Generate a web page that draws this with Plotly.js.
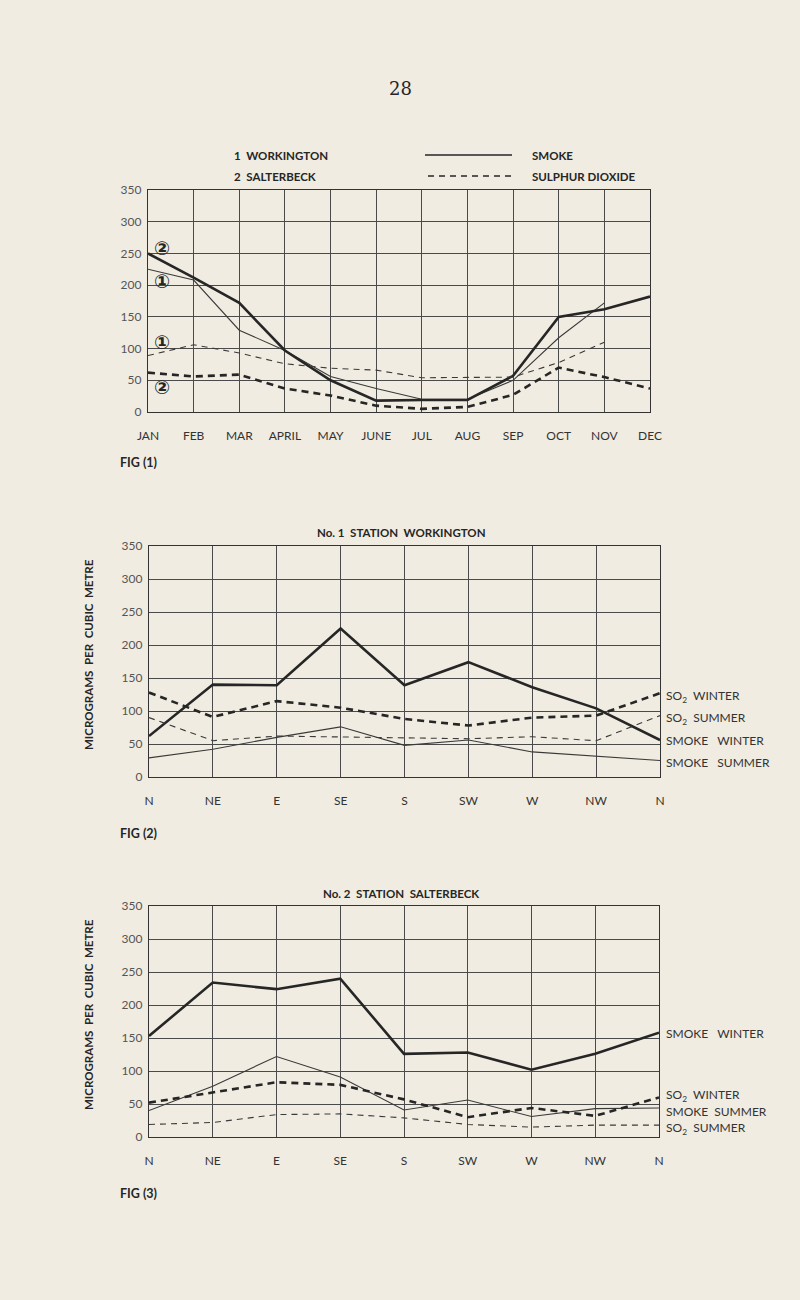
<!DOCTYPE html>
<html>
<head>
<meta charset="utf-8">
<script src="https://cdn.plot.ly/plotly-3.0.1.min.js"></script>
<style>
  html, body { margin: 0; padding: 0; background: #f0ece1; }
  #chart { width: 800px; height: 1300px; }
</style>
</head>
<body>
<div id="chart"></div>
<script>
// ---------- DATA ----------
const months = ['JAN','FEB','MAR','APRIL','MAY','JUNE','JUL','AUG','SEP','OCT','NOV','DEC'];
const directions = ['N','NE','E','SE','S','SW','W','NW','N'];

// Fig 1 – monthly averages
const smokeWorkington = [225,208,129,97,56,37,20,20,50,117,172];
const smokeSalterbeck = [250,212,172,97,50,18,19,19,57,150,162,182];
const so2Workington   = [89,106,93,76,69,66,54,54,55,78,110];
const so2Salterbeck   = [62,56,59,37,26,10,5,8,27,70,55,37];

// Fig 2 – No. 1 Station Workington, by wind direction
const w_smokeWinter = [62,140,139,225,139,174,136,104,56];
const w_smokeSummer = [29,42,60,76,48,56,38,31,25];
const w_so2Winter   = [128,91,115,105,88,78,90,93,127];
const w_so2Summer   = [90,55,62,61,59,58,61,55,93];

// Fig 3 – No. 2 Station Salterbeck, by wind direction
const s_smokeWinter = [153,234,224,240,126,128,102,126,158];
const s_smokeSummer = [40,77,122,91,41,56,31,43,44];
const s_so2Winter   = [52,67,83,79,57,30,44,32,60];
const s_so2Summer   = [19,22,34,35,29,19,15,18,18];

const yTicks = [0,50,100,150,200,250,300,350];

// ---------- STYLE ----------
const INK = '#262626';
const BG = '#f0ece1';
const FONT = 'Lato, "Open Sans", sans-serif';
const thick = {color: INK, width: 2.6};
const thin  = {color: '#3a3a3a', width: 1.1};
const thickDash = {color: INK, width: 2.6, dash: '7px,5px'};
const thinDash  = {color: '#3a3a3a', width: 1.1, dash: '6px,5px'};

const idx = a => a.map((_, i) => i);
function tr(xs, ys, line, xa, ya) {
  return {x: xs, y: ys, type: 'scatter', mode: 'lines', line: line,
          xaxis: xa, yaxis: ya, hoverinfo: 'skip', showlegend: false};
}

const traces = [
  tr(idx(smokeWorkington), smokeWorkington, thin, 'x', 'y'),
  tr(idx(smokeSalterbeck), smokeSalterbeck, thick, 'x', 'y'),
  tr(idx(so2Workington), so2Workington, thinDash, 'x', 'y'),
  tr(idx(so2Salterbeck), so2Salterbeck, thickDash, 'x', 'y'),

  tr(idx(w_smokeWinter), w_smokeWinter, thick, 'x2', 'y2'),
  tr(idx(w_smokeSummer), w_smokeSummer, thin, 'x2', 'y2'),
  tr(idx(w_so2Winter), w_so2Winter, thickDash, 'x2', 'y2'),
  tr(idx(w_so2Summer), w_so2Summer, thinDash, 'x2', 'y2'),

  tr(idx(s_smokeWinter), s_smokeWinter, thick, 'x3', 'y3'),
  tr(idx(s_smokeSummer), s_smokeSummer, thin, 'x3', 'y3'),
  tr(idx(s_so2Winter), s_so2Winter, thickDash, 'x3', 'y3'),
  tr(idx(s_so2Summer), s_so2Summer, thinDash, 'x3', 'y3')
];

const W = 800, H = 1300;
const px = v => v / W;
const py = v => 1 - v / H;

function xAxis(domain, labels, anchor) {
  return {
    domain: domain, anchor: anchor, range: [0, labels.length - 1],
    tickvals: labels.map((_, i) => i), ticktext: labels,
    showgrid: true, gridcolor: '#4a4a4a', gridwidth: 1,
    showline: true, linecolor: '#333', linewidth: 1.2, mirror: true,
    zeroline: false, ticks: 'outside', ticklen: 12, tickcolor: 'rgba(0,0,0,0)',
    tickfont: {family: FONT, size: 12, color: '#333'},
    fixedrange: true
  };
}
function yAxis(domain, anchor) {
  return {
    domain: domain, anchor: anchor, range: [0, 350],
    tickvals: yTicks, ticktext: yTicks.map(String),
    showgrid: true, gridcolor: '#4a4a4a', gridwidth: 1,
    showline: true, linecolor: '#333', linewidth: 1.2, mirror: true,
    zeroline: false, ticks: 'outside', ticklen: 3, tickcolor: 'rgba(0,0,0,0)',
    tickfont: {family: FONT, size: 12, color: '#555'},
    fixedrange: true
  };
}

function txt(x, y, text, opts) {
  return Object.assign({
    xref: 'paper', yref: 'paper', x: px(x), y: py(y), text: text,
    showarrow: false, xanchor: 'left', yanchor: 'middle',
    font: {family: FONT, size: 12, color: INK}
  }, opts || {});
}
function circ(xv, yv, t) {
  return {xref: 'x', yref: 'y', x: xv, y: yv, text: '<b>' + t + '</b>', showarrow: false,
          xanchor: 'center', yanchor: 'middle',
          font: {family: '"DejaVu Sans", sans-serif', size: 19, color: INK}};
}

const annotations = [
  txt(400, 88, '28', {xanchor: 'center', font: {family: '"DejaVu Serif", serif', size: 18, color: INK}}),
  // Fig 1 header legend
  txt(232, 155, '<b>1  WORKINGTON</b>', {font: {family: FONT, size: 11.5, color: INK}}),
  txt(232, 176, '<b>2  SALTERBECK</b>', {font: {family: FONT, size: 11.5, color: INK}}),
  txt(530, 155, '<b>SMOKE</b>', {font: {family: FONT, size: 11.5, color: INK}}),
  txt(530, 176, '<b>SULPHUR DIOXIDE</b>', {font: {family: FONT, size: 11.5, color: INK}}),
  // circled station numbers
  circ(0.3, 259, '②'),
  circ(0.3, 207, '①'),
  circ(0.3, 110, '①'),
  circ(0.3, 40, '②'),
  txt(118, 462, '<b>FIG (1)</b>', {font: {family: FONT, size: 12.5, color: INK}}),

  // Fig 2
  txt(401, 533, '<b>No. 1  STATION  WORKINGTON</b>', {xanchor: 'center', font: {family: FONT, size: 11.5, color: INK}}),
  txt(664, 696, 'SO<sub>2</sub>  WINTER', {font: {family: FONT, size: 12, color: '#333'}}),
  txt(664, 718, 'SO<sub>2</sub>  SUMMER', {font: {family: FONT, size: 12, color: '#333'}}),
  txt(664, 740, 'SMOKE   WINTER', {font: {family: FONT, size: 12, color: '#333'}}),
  txt(664, 762, 'SMOKE   SUMMER', {font: {family: FONT, size: 12, color: '#333'}}),
  txt(88, 655, '<b>MICROGRAMS  PER  CUBIC  METRE</b>', {xanchor: 'center', textangle: -90, font: {family: FONT, size: 11.5, color: INK}}),
  txt(118, 833, '<b>FIG (2)</b>', {font: {family: FONT, size: 12.5, color: INK}}),

  // Fig 3
  txt(401, 893, '<b>No. 2  STATION  SALTERBECK</b>', {xanchor: 'center', font: {family: FONT, size: 11.5, color: INK}}),
  txt(664, 1033, 'SMOKE   WINTER', {font: {family: FONT, size: 12, color: '#333'}}),
  txt(664, 1095, 'SO<sub>2</sub>  WINTER', {font: {family: FONT, size: 12, color: '#333'}}),
  txt(664, 1111, 'SMOKE  SUMMER', {font: {family: FONT, size: 12, color: '#333'}}),
  txt(664, 1128, 'SO<sub>2</sub>  SUMMER', {font: {family: FONT, size: 12, color: '#333'}}),
  txt(88, 1015, '<b>MICROGRAMS  PER  CUBIC  METRE</b>', {xanchor: 'center', textangle: -90, font: {family: FONT, size: 11.5, color: INK}}),
  txt(118, 1193, '<b>FIG (3)</b>', {font: {family: FONT, size: 12.5, color: INK}})
];

const shapes = [
  {type: 'line', xref: 'paper', yref: 'paper', x0: px(425), x1: px(512), y0: py(155), y1: py(155),
   line: {color: INK, width: 1.6}},
  {type: 'line', xref: 'paper', yref: 'paper', x0: px(428), x1: px(512), y0: py(176), y1: py(176),
   line: {color: INK, width: 1.6, dash: '6px,5px'}}
];

const layout = {
  width: W, height: H,
  margin: {l: 0, r: 0, t: 0, b: 0},
  paper_bgcolor: BG, plot_bgcolor: BG,
  showlegend: false,
  font: {family: FONT, color: INK},
  xaxis:  xAxis([px(148), px(650)], months, 'y'),
  yaxis:  yAxis([py(412), py(190)], 'x'),
  xaxis2: xAxis([px(149), px(660)], directions, 'y2'),
  yaxis2: yAxis([py(777), py(546)], 'x2'),
  xaxis3: xAxis([px(149), px(659)], directions, 'y3'),
  yaxis3: yAxis([py(1137), py(906)], 'x3'),
  annotations: annotations,
  shapes: shapes
};

Plotly.newPlot('chart', traces, layout, {displayModeBar: false, staticPlot: true});
</script>
</body>
</html>
